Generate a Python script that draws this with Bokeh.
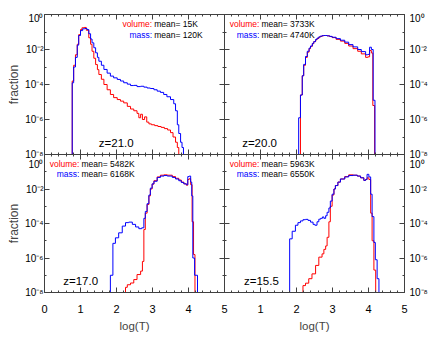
from bokeh.plotting import figure
from bokeh.models import LinearAxis, LogAxis, FixedTicker, Range1d, Label
from bokeh.layouts import row, column
from bokeh.embed import file_html
from bokeh.resources import INLINE

FONT = "Liberation Sans"
RED = "#ff0000"
BLUE = "#0000ff"
AXC = "#404040"

# ---------------- data (log10 T bin start, log10 fraction) ----------------
Z21_VOLUME = [(0.00, -8.0), (0.77, -3.8), (0.81, -2.9), (0.86, -2.3), (0.91, -1.7), (0.95, -1.15),
              (1.00, -0.86), (1.04, -0.76), (1.10, -0.74), (1.16, -0.9), (1.23, -1.33), (1.28, -1.7),
              (1.32, -2.1), (1.37, -2.5), (1.42, -2.86), (1.47, -3.15), (1.51, -3.43), (1.58, -3.7),
              (1.65, -4.0), (1.74, -4.3), (1.83, -4.57), (1.92, -4.75), (2.02, -4.86), (2.11, -4.95),
              (2.20, -5.05), (2.30, -5.25), (2.39, -5.4), (2.48, -5.5), (2.57, -5.65), (2.62, -5.9),
              (2.67, -5.7), (2.72, -6.0), (2.78, -5.85), (2.84, -6.15), (2.90, -6.25), (2.97, -6.3),
              (3.06, -6.35), (3.15, -6.4), (3.24, -6.45), (3.33, -6.52), (3.42, -6.6), (3.50, -6.75),
              (3.57, -7.0), (3.64, -7.3), (3.69, -7.6), (3.73, -8.0)]
Z21_MASS = [(0.00, -8.0), (0.77, -3.9), (0.81, -3.0), (0.86, -2.45), (0.91, -1.75), (0.95, -1.2),
            (1.00, -0.92), (1.06, -0.82), (1.12, -0.8), (1.18, -0.86), (1.23, -1.1), (1.28, -1.4),
            (1.32, -1.62), (1.37, -1.9), (1.42, -2.19), (1.47, -2.45), (1.51, -2.67), (1.58, -2.9),
            (1.65, -3.14), (1.74, -3.35), (1.83, -3.52), (1.92, -3.62), (2.02, -3.71), (2.11, -3.8),
            (2.20, -3.9), (2.30, -3.98), (2.39, -4.06), (2.48, -4.05), (2.57, -4.12), (2.67, -4.1),
            (2.76, -4.15), (2.85, -4.2), (2.94, -4.23), (3.04, -4.3), (3.13, -4.38), (3.22, -4.45),
            (3.31, -4.57), (3.40, -4.7), (3.50, -4.86), (3.59, -5.1), (3.64, -5.5), (3.69, -6.3),
            (3.73, -6.8), (3.78, -7.3), (3.82, -7.6), (3.86, -8.0)]

Z20_VOLUME = [(0.00, -8.0), (2.11, -4.6), (2.16, -3.5), (2.20, -2.9), (2.25, -2.45), (2.30, -2.15),
              (2.35, -1.95), (2.39, -1.82), (2.44, -1.67), (2.48, -1.55), (2.53, -1.45), (2.57, -1.37),
              (2.62, -1.3), (2.66, -1.25), (2.71, -1.22), (2.75, -1.2), (2.80, -1.2), (2.85, -1.22),
              (2.92, -1.26), (2.99, -1.32), (3.10, -1.42), (3.22, -1.52), (3.34, -1.65), (3.45, -1.8),
              (3.57, -1.95), (3.70, -2.1), (3.80, -2.25), (3.92, -2.45), (3.98, -2.42), (4.03, -2.06),
              (4.08, -2.2), (4.12, -5.2), (4.17, -8.0)]
Z20_MASS = [(0.00, -8.0), (2.06, -5.9), (2.11, -4.6), (2.16, -3.5), (2.20, -2.85), (2.25, -2.4),
            (2.30, -2.1), (2.35, -1.92), (2.39, -1.8), (2.44, -1.65), (2.48, -1.55), (2.53, -1.43),
            (2.57, -1.35), (2.62, -1.28), (2.66, -1.24), (2.71, -1.21), (2.75, -1.2), (2.80, -1.2),
            (2.85, -1.22), (2.92, -1.25), (2.99, -1.3), (3.10, -1.38), (3.22, -1.47), (3.34, -1.58),
            (3.45, -1.72), (3.57, -1.85), (3.70, -2.0), (3.80, -2.12), (3.92, -2.3), (3.98, -2.28),
            (4.03, -1.87), (4.08, -2.0), (4.13, -4.9), (4.18, -8.0)]

Z17_VOLUME = [(0.00, -8.0), (2.25, -7.7), (2.30, -7.55), (2.39, -7.45), (2.48, -7.25), (2.57, -6.96),
              (2.67, -6.76), (2.72, -6.2), (2.76, -4.35), (2.80, -3.4), (2.85, -2.9), (2.90, -2.4),
              (2.94, -2.0), (2.99, -1.72), (3.04, -1.52), (3.13, -1.3), (3.22, -1.2), (3.32, -1.18),
              (3.41, -1.2), (3.55, -1.28), (3.64, -1.38), (3.73, -1.48), (3.80, -1.6), (3.87, -1.7),
              (3.94, -1.78), (3.98, -1.45), (4.02, -1.4), (4.06, -1.75), (4.10, -3.9), (4.14, -5.8),
              (4.18, -8.0)]
Z17_MASS = [(0.00, -8.0), (1.83, -7.0), (1.90, -5.15), (1.97, -4.83), (2.06, -4.54), (2.16, -4.15),
            (2.25, -3.95), (2.34, -3.92), (2.44, -4.05), (2.53, -4.2), (2.62, -4.3), (2.70, -4.25),
            (2.76, -3.7), (2.80, -3.3), (2.85, -2.85), (2.90, -2.35), (2.94, -1.95), (2.99, -1.7),
            (3.04, -1.55), (3.13, -1.33), (3.22, -1.25), (3.32, -1.22), (3.41, -1.25), (3.55, -1.33),
            (3.64, -1.42), (3.73, -1.52), (3.80, -1.62), (3.87, -1.7), (3.94, -1.75), (3.98, -1.28),
            (4.02, -1.25), (4.06, -1.6), (4.09, -2.4), (4.12, -6.0), (4.17, -7.0), (4.25, -8.0)]

Z15_VOLUME = [(0.00, -8.0), (2.18, -7.6), (2.25, -7.46), (2.34, -7.2), (2.43, -6.92), (2.53, -6.43),
              (2.62, -5.95), (2.71, -5.76), (2.76, -5.5), (2.81, -5.3), (2.85, -4.8), (2.90, -3.9),
              (2.94, -3.0), (2.99, -2.35), (3.04, -2.0), (3.08, -1.8), (3.15, -1.6), (3.22, -1.42),
              (3.34, -1.28), (3.45, -1.18), (3.57, -1.2), (3.69, -1.25), (3.78, -1.35), (3.87, -1.5),
              (3.92, -1.45), (3.96, -1.35), (4.01, -1.45), (4.06, -3.4), (4.10, -5.0), (4.15, -6.7),
              (4.20, -8.0)]
Z15_MASS = [(0.00, -8.0), (1.81, -4.89), (1.88, -4.45), (1.97, -4.1), (2.04, -3.95), (2.11, -3.85),
            (2.18, -3.78), (2.25, -3.76), (2.32, -3.82), (2.39, -3.92), (2.46, -4.05), (2.51, -4.1),
            (2.57, -3.9), (2.62, -3.75), (2.67, -3.7), (2.72, -3.62), (2.76, -3.7), (2.81, -3.55),
            (2.85, -3.35), (2.90, -3.1), (2.94, -2.7), (2.99, -2.3), (3.04, -2.0), (3.08, -1.8),
            (3.15, -1.6), (3.22, -1.42), (3.34, -1.3), (3.45, -1.22), (3.57, -1.2), (3.69, -1.25),
            (3.78, -1.35), (3.87, -1.5), (3.92, -1.45), (3.96, -1.15), (4.01, -1.3), (4.06, -2.3),
            (4.10, -3.6), (4.15, -5.1), (4.19, -6.1), (4.24, -7.2), (4.29, -8.0)]

REDSHIFTS = ["z=21.0", "z=20.0", "z=17.0", "z=15.5"]
VOLUME_MEANS = ["15K", "3733K", "5482K", "5963K"]
MASS_MEANS = ["120K", "4740K", "6168K", "6550K"]

X_TICKS = [0.0, 1.0, 2.0, 3.0, 4.0, 5.0]
X_LABELS = ["0", "1", "2", "3", "4", "5"]
Y_TICKS = [1e-8, 1e-6, 1e-4, 1e-2, 1.0]
Y_LABELS = ["10⁻⁸", "10⁻⁶", "10⁻⁴", "10⁻²", "10⁰"]

# ---------------- layout constants ----------------
FW = 180
FH_TOP, FH_BOT = 140, 138
B_LEFT, B_RIGHT, B_TOP, B_BOTTOM = 44, 34, 6, 44
OVERLAP_X = 8
OVERLAP_Y = 7
PAGE = 8


def x_ticker():
    return FixedTicker(ticks=X_TICKS, minor_ticks=[i * 0.2 for i in range(26)])


def y_ticker():
    return FixedTicker(ticks=Y_TICKS, minor_ticks=[1e-7, 1e-5, 1e-3, 1e-1])


def style_axis(ax, show):
    ax.major_tick_in = 5
    ax.major_tick_out = 0
    ax.minor_tick_in = 2
    ax.minor_tick_out = 0
    ax.axis_line_color = AXC
    ax.major_tick_line_color = AXC
    ax.minor_tick_line_color = AXC
    ax.major_label_text_font = FONT
    if show:
        ax.major_label_text_color = "black"
        ax.major_label_text_font_size = "10px"
    else:
        ax.major_label_text_color = None
        ax.major_label_text_font_size = "0px"
        ax.major_label_standoff = 0


def y_overrides():
    d = dict(zip(Y_TICKS, Y_LABELS))
    d[1.0] = "\n" + d[1.0]      # nudge the top label down, inside its panel
    return d


def panel(i, vol, mass, colon_x, z_x, left, top):
    kw = dict(frame_width=FW, frame_height=FH_TOP if top else FH_BOT,
              min_border_left=B_LEFT if left else 0,
              min_border_right=OVERLAP_X if left else B_RIGHT,
              min_border_top=B_TOP if top else 0,
              min_border_bottom=OVERLAP_Y if top else B_BOTTOM)
    p = figure(x_range=Range1d(0, 5), y_range=Range1d(1e-8, 1.0),
               y_axis_type="log", x_axis_location=None, y_axis_location=None, title=None,
               output_backend="svg", toolbar_location=None,
               background_fill_color=None, border_fill_color=None, outline_line_color=None, **kw)
    p.grid.visible = False
    if not left:
        p.margin = (0, 0, 0, -OVERLAP_X)

    # y axes
    la = LogAxis(ticker=y_ticker())
    ra = LogAxis(ticker=y_ticker())
    style_axis(la, left)
    style_axis(ra, not left)
    lab = la if left else ra
    lab.major_label_overrides = y_overrides()
    lab.major_label_text_line_height = 0.45
    lab.major_label_standoff = 1 if left else 5
    if left:
        la.axis_label = "fraction"
        la.axis_label_text_font = FONT
        la.axis_label_text_font_size = "12px"
        la.axis_label_text_font_style = "normal"
        la.axis_label_standoff = 1
    p.add_layout(la, "left")
    p.add_layout(ra, "right")

    # x axes
    ta = LinearAxis(ticker=x_ticker())
    ba = LinearAxis(ticker=x_ticker())
    style_axis(ta, False)
    style_axis(ba, not top)
    if not top:
        ov = dict(zip(X_TICKS, X_LABELS))
        if not left:
            ov[0.0] = ""
        ba.major_label_overrides = ov
        ba.major_label_text_font_size = "11px"
        ba.major_label_standoff = 12
        ba.axis_label = "log(T)"
        ba.axis_label_text_font = FONT
        ba.axis_label_text_font_size = "11.5px"
        ba.axis_label_text_font_style = "normal"
        ba.axis_label_standoff = 4
    p.add_layout(ta, "above")
    p.add_layout(ba, "below")

    # histograms (step)
    for data, color in ((vol, RED), (mass, BLUE)):
        xs = [t for t, _ in data]
        ys = [10 ** f for _, f in data]
        p.step(xs, ys, mode="after", line_color=color, line_width=1)

    # annotations
    yv, ym = 10 ** -0.55, 10 ** -1.15
    p.add_layout(Label(x=colon_x, y=yv, text="volume:", text_align="right", text_baseline="middle",
                       text_color=RED, text_font=FONT, text_font_size="8.5px"))
    p.add_layout(Label(x=colon_x, y=yv, x_offset=2, text="mean= " + VOLUME_MEANS[i], text_align="left",
                       text_baseline="middle", text_color="black", text_font=FONT, text_font_size="8.5px"))
    p.add_layout(Label(x=colon_x, y=ym, text="mass:", text_align="right", text_baseline="middle",
                       text_color=BLUE, text_font=FONT, text_font_size="8.5px"))
    p.add_layout(Label(x=colon_x, y=ym, x_offset=2, text="mean= " + MASS_MEANS[i], text_align="left",
                       text_baseline="middle", text_color="black", text_font=FONT, text_font_size="8.5px"))
    p.add_layout(Label(x=z_x, y=10 ** -7.35, text=REDSHIFTS[i], text_align="left", text_baseline="middle",
                       text_color="black", text_font=FONT, text_font_size="11.5px"))
    return p


p1 = panel(0, Z21_VOLUME, Z21_MASS, 2.99, 1.51, left=True, top=True)
p2 = panel(1, Z20_VOLUME, Z20_MASS, 0.97, 0.49, left=False, top=True)
p3 = panel(2, Z17_VOLUME, Z17_MASS, 0.97, 0.52, left=True, top=False)
p4 = panel(3, Z15_VOLUME, Z15_MASS, 0.97, 0.54, left=False, top=False)

top_row = row(p1, p2)
bottom_row = row(p3, p4, margin=(-OVERLAP_Y, 0, 0, 0))
layout = column(top_row, bottom_row, margin=(PAGE, 0, 0, 0))

with open("out.html", "w") as f:
    f.write(file_html(layout, INLINE))
